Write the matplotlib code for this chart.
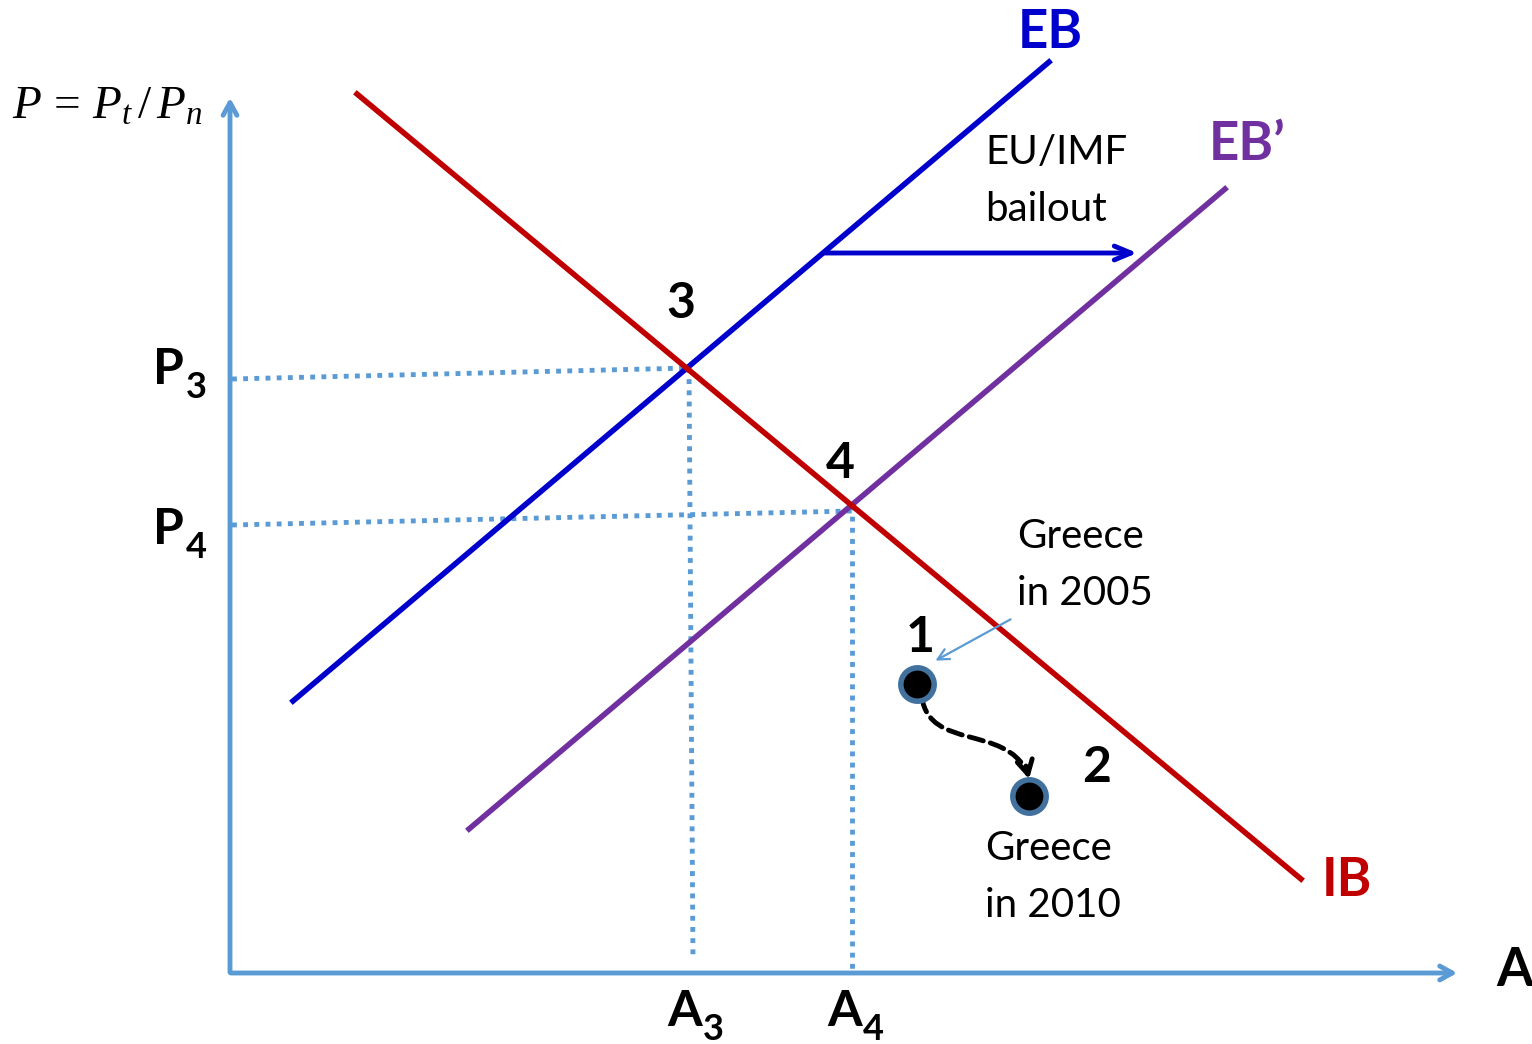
import matplotlib.pyplot as plt
from matplotlib.patches import FancyArrowPatch
from matplotlib.path import Path

plt.rcParams['font.family'] = ['Lato', 'DejaVu Sans']
plt.rcParams['mathtext.fontset'] = 'custom'
plt.rcParams['mathtext.rm'] = 'Liberation Serif'
plt.rcParams['mathtext.it'] = 'Liberation Serif:italic'

# diagram geometry, in picture units (x right, y down)
eb = ([293, 1049], [701, 62])
eb2 = ([469, 1225], [829, 189])
ib = ([357, 1301], [94, 879])
p3_dot = ([232, 689], [379, 368])
p4_dot = ([232, 852], [525, 511])
a3_dot = ([689, 693], [368, 960])
a4_dot = ([852, 852], [505, 970])
bailout = ([822, 1140], [253, 253])
pts_x = [917, 1029]
pts_y = [684, 796]
move_path = [(922, 698), (930, 750), (1005, 725), (1027, 772)]

# subscripted tick-like labels: (main, sub, x, y)
sub_labels = [('P', '3', 168, 370), ('P', '4', 168, 530),
              ('A', '3', 685, 1012), ('A', '4', 845, 1012)]

axis_c = '#5B9BD5'
blue = '#0000CC'
purple = '#7030A0'
red = '#C00000'

fig = plt.figure(figsize=(15.32, 10.44), dpi=100)
ax = fig.add_axes([0, 0, 1, 1])
ax.set_xlim(0, 1532)
ax.set_ylim(1044, 0)
ax.axis('off')

# axes arrows
ax.annotate('', xy=(230, 95), xytext=(230, 975),
            arrowprops=dict(arrowstyle='->,head_length=0.9,head_width=0.5', color=axis_c, lw=3.5))
ax.annotate('', xy=(1460, 973), xytext=(228, 973),
            arrowprops=dict(arrowstyle='->,head_length=0.9,head_width=0.5', color=axis_c, lw=3.5))

# dotted guides
for xs, ys in [p3_dot, p4_dot, a3_dot, a4_dot]:
    ax.plot(xs, ys, color=axis_c, lw=3.5, ls=(0, (1, 1.3)), solid_capstyle='butt')

ax.plot(*eb, color=blue, lw=4)
ax.plot(*eb2, color=purple, lw=4)
ax.plot(*ib, color=red, lw=4)

ax.annotate('', xy=(bailout[0][1], bailout[1][1]), xytext=(bailout[0][0], bailout[1][0]),
            arrowprops=dict(arrowstyle='->,head_length=1.2,head_width=0.5', color=blue, lw=3.5))

# greece move
codes = [Path.MOVETO, Path.CURVE4, Path.CURVE4, Path.CURVE4]
curve = FancyArrowPatch(path=Path(move_path, codes), arrowstyle='-',
                        color='black', lw=3.5, linestyle=(0, (3, 1.5)))
ax.add_patch(curve)
ax.annotate('', xy=(1029, 779), xytext=(1026, 766),
            arrowprops=dict(arrowstyle='->,head_length=1.0,head_width=0.55', color='black', lw=3.5,
                            shrinkA=0, shrinkB=0))
ax.plot(pts_x, pts_y, 'o', ms=24, mfc='black', mec='#41719C', mew=4, zorder=5)

ax.annotate('', xy=(933, 662), xytext=(1013, 618),
            arrowprops=dict(arrowstyle='->,head_length=0.8,head_width=0.4', color=axis_c, lw=1.6))

# labels
bold = dict(fontweight='bold', ha='center', va='center')
ax.text(1050, 32, 'EB', color=blue, fontsize=38, **bold)
ax.text(1247, 145, 'EB\u2019', color=purple, fontsize=38, **bold)
ax.text(1347, 880, 'IB', color=red, fontsize=38, **bold)
ax.text(1515, 970, 'A', color='black', fontsize=38, **bold)
ax.text(681, 304, '3', fontsize=36, **bold)
ax.text(840, 464, '4', fontsize=36, **bold)
ax.text(920, 638, '1', fontsize=36, **bold)
ax.text(1097, 767, '2', fontsize=36, **bold)
for main, sub, x, y in sub_labels:
    ax.text(x, y, main, fontsize=36, **bold)
    ax.text(x + 28, y + 17, sub, fontsize=26, fontweight='bold', ha='center', va='center')

plain = dict(fontsize=29, ha='left', va='center', linespacing=1.65)
ax.text(985, 181, 'EU/IMF\nbailout', **plain)
ax.text(1017, 565, 'Greece\nin 2005', **plain)
ax.text(985, 877, 'Greece\nin 2010', **plain)

ax.text(12, 106, r'$P\,=\,P_t\,/\,P_n$', fontsize=34, ha='left', va='center')

fig.savefig('out.png', dpi=100)
